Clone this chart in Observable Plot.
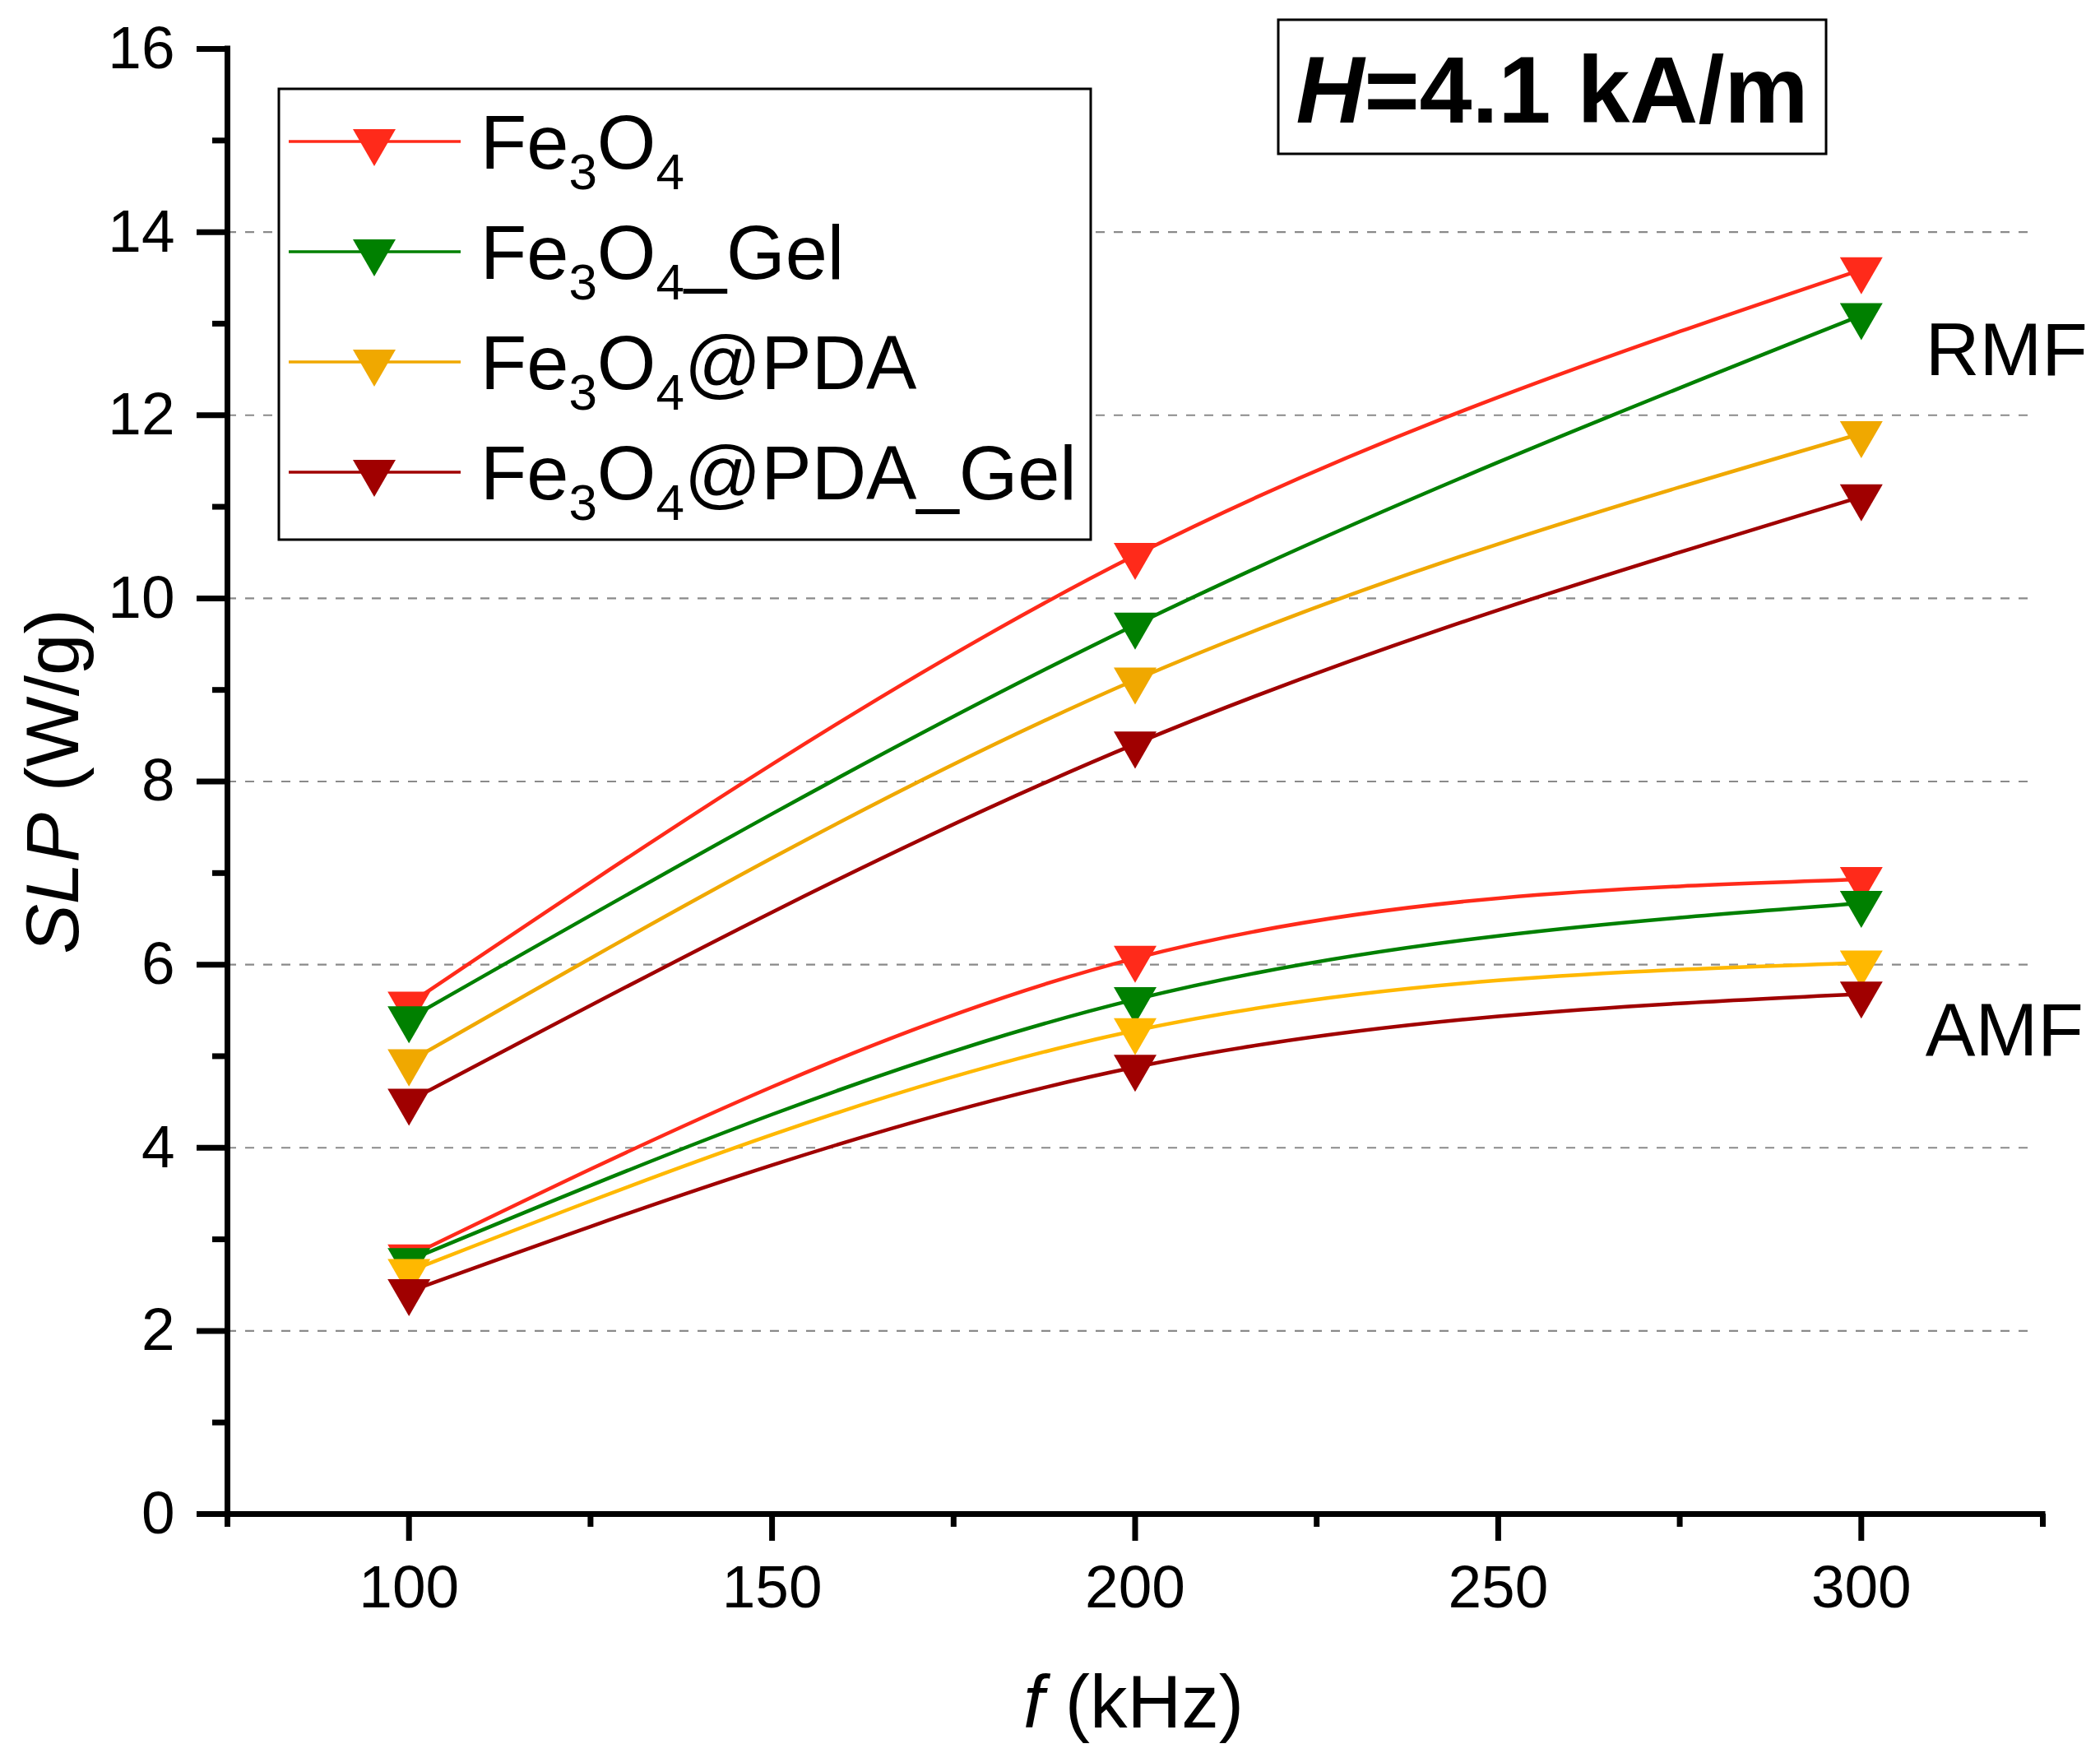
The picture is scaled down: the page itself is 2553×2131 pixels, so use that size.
<!DOCTYPE html>
<html>
<head>
<meta charset="utf-8">
<script src="https://cdn.jsdelivr.net/npm/d3@7"></script>
<script src="https://cdn.jsdelivr.net/npm/@observablehq/plot@0.6"></script>
<style>
  html, body { margin: 0; padding: 0; background: #fff; }
  svg { display: block; }
</style>
</head>
<body>
<div id="chart"></div>
<script>
// ---------- data ----------
const frequency = [100, 200, 300];
const samples = ["Fe3O4", "Fe3O4_Gel", "Fe3O4@PDA", "Fe3O4@PDA_Gel"];
const fields = ["RMF", "AMF"];

const rmfFe3O4       = [5.57, 10.47, 13.59];
const rmfFe3O4Gel    = [5.41,  9.71, 13.09];
const rmfFe3O4PDA    = [4.94,  9.11, 11.80];
const rmfFe3O4PDAGel = [4.51,  8.41, 11.11];

const amfFe3O4       = [2.81, 6.07, 6.93];
const amfFe3O4Gel    = [2.77, 5.62, 6.67];
const amfFe3O4PDA    = [2.65, 5.28, 6.02];
const amfFe3O4PDAGel = [2.43, 4.88, 5.68];

const xTicks = [100, 150, 200, 250, 300];
const xMinorTicks = [75, 125, 175, 225, 275, 325];
const yTicks = [0, 2, 4, 6, 8, 10, 12, 14, 16];
const yMinorTicks = [1, 3, 5, 7, 9, 11, 13, 15];
const gridValues = [2, 4, 6, 8, 10, 12, 14];

const fieldLabels = ["RMF", "AMF"];
const fieldLabelY = [12.70, 5.27];

// ---------- styles ----------
const colorsRMF = ["#FF2A1A", "#008000", "#F0A800", "#A00000"];
const colorsAMF = ["#FF2A1A", "#008000", "#FFB800", "#A00000"];
const FONT = "'Liberation Sans', Arial, sans-serif";

// ---------- table ----------
const valuesByField = {
  RMF: [rmfFe3O4, rmfFe3O4Gel, rmfFe3O4PDA, rmfFe3O4PDAGel],
  AMF: [amfFe3O4, amfFe3O4Gel, amfFe3O4PDA, amfFe3O4PDAGel]
};
const rows = [];
for (const field of fields) {
  samples.forEach((s, i) => {
    frequency.forEach((f, j) => {
      rows.push({field, sample: s, idx: i, f, slp: valuesByField[field][i][j]});
    });
  });
}
const annotations = fieldLabels.map((label, i) => ({label, f: 300, slp: fieldLabelY[i]}));

// downward triangle, centered on its centroid
const triDown = {
  draw(ctx, size) {
    const y = Math.sqrt(size / (3 * Math.sqrt(3)));
    const x = Math.sqrt(3) * y;
    ctx.moveTo(0, 2 * y);
    ctx.lineTo(-x, -y);
    ctx.lineTo(x, -y);
    ctx.closePath();
  }
};

const seriesMarks = [];
for (const field of fields) {
  const cols = field === "RMF" ? colorsRMF : colorsAMF;
  samples.forEach((s, i) => {
    const d = rows.filter(r => r.field === field && r.sample === s);
    seriesMarks.push(Plot.line(d, {x: "f", y: "slp", stroke: cols[i], strokeWidth: 4.5, curve: "natural"}));
    seriesMarks.push(Plot.dot(d, {x: "f", y: "slp", fill: cols[i], stroke: "none", r: 19.3, symbol: triDown}));
  });
}

const fmt = d => String(d);

const W = 2553, H = 2131;
const svg = Plot.plot({
  width: W,
  height: H,
  marginLeft: 276,
  marginRight: 70,
  marginTop: 59,
  marginBottom: 291,
  style: {fontFamily: FONT, background: "#fff", color: "#000", overflow: "visible"},
  x: {domain: [75, 325], label: null},
  y: {domain: [0, 16], label: null},
  marks: [
    Plot.ruleY(gridValues, {x1: 75, x2: 323.7, stroke: "#8a8a8a", strokeWidth: 2.2, strokeDasharray: "11,11"}),
    ...seriesMarks,
    Plot.text(annotations, {x: "f", y: "slp", text: "label", dx: 78, textAnchor: "start", fontSize: 91, fill: "#000"}),
    Plot.axisY(yMinorTicks, {anchor: "left", tickSize: 18, strokeWidth: 7, tickFormat: () => "", label: null}),
    Plot.axisY(yTicks, {anchor: "left", tickSize: 37, tickPadding: 27, strokeWidth: 7, fontSize: 73, tickFormat: fmt, label: null}),
    Plot.axisX(xMinorTicks, {anchor: "bottom", tickSize: 16, strokeWidth: 7, tickFormat: () => "", label: null}),
    Plot.axisX(xTicks, {anchor: "bottom", tickSize: 33, tickPadding: 29, strokeWidth: 7, fontSize: 73, tickFormat: fmt, label: null}),
    Plot.ruleX([75], {y1: 0, y2: 16, stroke: "#000", strokeWidth: 7, strokeLinecap: "square"}),
    Plot.ruleY([0], {x1: 75, x2: 325, stroke: "#000", strokeWidth: 7, strokeLinecap: "square"})
  ]
});

const root = d3.select(svg);

// axis titles with italic symbols
const yTitle = root.append("text")
  .attr("transform", "translate(95,950) rotate(-90)")
  .attr("text-anchor", "middle")
  .attr("font-family", FONT).attr("font-size", 91).attr("fill", "#000");
yTitle.append("tspan").attr("font-style", "italic").text("SLP");
yTitle.append("tspan").text(" (W/g)");

const xTitle = root.append("text")
  .attr("x", 1378).attr("y", 2100)
  .attr("text-anchor", "middle")
  .attr("font-family", FONT).attr("font-size", 91).attr("fill", "#000");
xTitle.append("tspan").attr("font-style", "italic").text("f");
xTitle.append("tspan").text(" (kHz)");

// field-strength box
root.append("rect").attr("x", 1554).attr("y", 24).attr("width", 666).attr("height", 163)
  .attr("fill", "#fff").attr("stroke", "#000").attr("stroke-width", 3);
const hText = root.append("text")
  .attr("x", 1887).attr("y", 149).attr("text-anchor", "middle")
  .attr("font-family", FONT).attr("font-size", 115).attr("font-weight", "bold").attr("fill", "#000");
hText.append("tspan").attr("font-style", "italic").text("H");
hText.append("tspan").text("=4.1 kA/m");

// legend
const lg = root.append("g");
lg.append("rect").attr("x", 339).attr("y", 108).attr("width", 987).attr("height", 548)
  .attr("fill", "#fff").attr("stroke", "#000").attr("stroke-width", 3);
const legendParts = [
  ["Fe", "3", "O", "4", ""],
  ["Fe", "3", "O", "4", "_Gel"],
  ["Fe", "3", "O", "4", "@PDA"],
  ["Fe", "3", "O", "4", "@PDA_Gel"]
];
const sym = d3.symbol(triDown, Math.PI * 19.3 * 19.3);
legendParts.forEach((parts, i) => {
  const cy = 172 + i * 134;
  lg.append("line").attr("x1", 351).attr("x2", 560).attr("y1", cy).attr("y2", cy)
    .attr("stroke", colorsRMF[i]).attr("stroke-width", 3.5);
  lg.append("path").attr("d", sym()).attr("transform", `translate(455,${cy})`).attr("fill", colorsRMF[i]);
  const t = lg.append("text").attr("x", 584).attr("y", cy + 33)
    .attr("text-anchor", "start")
    .attr("font-family", FONT).attr("font-size", 92).attr("fill", "#000");
  t.append("tspan").text(parts[0]);
  t.append("tspan").attr("font-size", 62).attr("dy", 25).text(parts[1]);
  t.append("tspan").attr("dy", -25).text(parts[2]);
  t.append("tspan").attr("font-size", 62).attr("dy", 25).text(parts[3]);
  if (parts[4]) t.append("tspan").attr("dy", -25).text(parts[4]);
});

document.getElementById("chart").appendChild(svg);
</script>
</body>
</html>
